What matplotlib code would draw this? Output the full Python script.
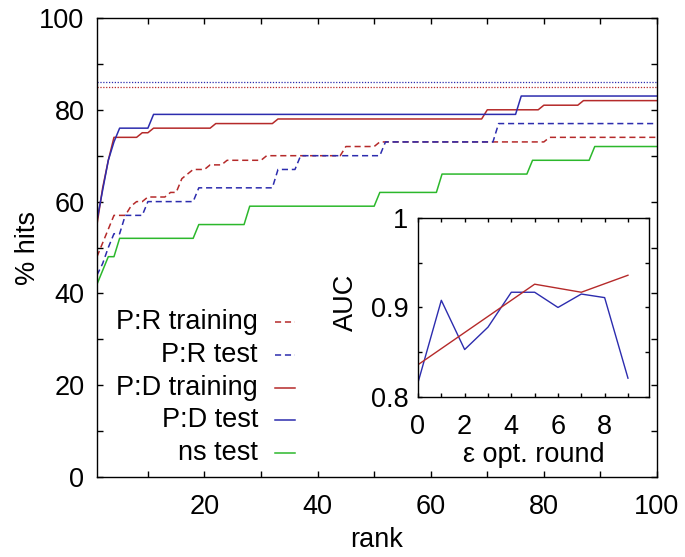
import numpy as np
import matplotlib
matplotlib.use('Agg')
import matplotlib.pyplot as plt

plt.rcParams['font.family'] = ['Liberation Sans', 'DejaVu Sans']
plt.rcParams['font.size'] = 19.5

# step curves: rank where a new value starts, and that value (% hits)
pr_train_rank = [1, 2, 3, 4, 7, 8, 10, 14, 16, 17, 18, 21, 24, 31, 45, 51, 81]
pr_train_hits = [48, 51, 54, 57, 59, 60, 61, 62, 65, 66, 67, 68, 69, 70, 72, 73, 74]

pr_test_rank = [1, 2, 3, 4, 6, 10, 19, 33, 37, 52, 72]
pr_test_hits = [44, 46.5, 50, 53, 57, 60, 63, 67, 70, 73, 77]

pd_train_rank = [1, 2, 3, 4, 9, 11, 22, 33, 70, 80, 87]
pd_train_hits = [55, 63, 69, 74, 75, 76, 77, 78, 80, 81, 82]

pd_test_rank = [1, 2, 3, 4, 5, 11, 76]
pd_test_hits = [56, 62.5, 69, 73, 76, 79, 83]

ns_test_rank = [1, 2, 3, 5, 19, 28, 51, 62, 78, 89]
ns_test_hits = [42, 45, 48, 52, 55, 59, 62, 66, 69, 72]

# best possible levels (dotted)
pr_best = 85
pd_best = 86

# inset: AUC per epsilon optimisation round
eps_round = [0, 1, 2, 3, 4, 5, 6, 7, 8, 9]
auc_blue = [0.816, 0.908, 0.853, 0.878, 0.917, 0.917, 0.900, 0.915, 0.911, 0.821]
red_round = [0, 5, 7, 9]
auc_red = [0.836, 0.926, 0.917, 0.936]

RED = '#b52a2a'
BLUE = '#2c2cae'
GREEN = '#2cb82c'

ranks = np.arange(1, 101)

def expand(starts, vals):
	# value at each rank = last value that started at or before it
	idx = np.searchsorted(starts, ranks, side='right') - 1
	return np.array(vals)[idx]

fig = plt.figure(figsize=(6.85, 5.57), dpi=100)
ax = fig.add_axes([0.1416, 0.1436, 0.8175, 0.8241])

dash = (0, (4, 2.5))
ax.axhline(pd_best, color=BLUE, lw=0.9, ls=(0, (1, 1.3)))
ax.axhline(pr_best, color=RED, lw=0.9, ls=(0, (1, 1.3)))

series = [
	('P:R training', pr_train_rank, pr_train_hits, RED, dash),
	('P:R test', pr_test_rank, pr_test_hits, BLUE, dash),
	('P:D training', pd_train_rank, pd_train_hits, RED, '-'),
	('P:D test', pd_test_rank, pd_test_hits, BLUE, '-'),
	('ns test', ns_test_rank, ns_test_hits, GREEN, '-'),
]
for name, r, h, c, ls in series:
	ax.plot(ranks, expand(r, h), color=c, ls=ls, lw=1.1)

# gnuplot style key: right aligned text, sample to the right
key_y = [0.338, 0.266, 0.194, 0.124, 0.052]
for (name, r, h, c, ls), yk in zip(series, key_y):
	ax.text(0.2875, yk, name, ha='right', va='center', transform=ax.transAxes)
	ax.plot([0.318, 0.354], [yk, yk], color=c, ls=ls, lw=1.1, transform=ax.transAxes)

ax.set_xlim(1, 100)
ax.set_ylim(0, 100)
ax.set_xticks(range(10, 101, 10))
ax.set_xticklabels([str(v) if v % 20 == 0 else '' for v in range(10, 101, 10)])
ax.set_yticks(range(0, 101, 10))
ax.set_yticklabels([str(v) if v % 20 == 0 else '' for v in range(0, 101, 10)])
ax.tick_params(direction='in', length=4, width=1, top=True, right=True)
ax.tick_params(axis='x', pad=12)
ax.tick_params(axis='y', pad=9)
for s in ax.spines.values():
	s.set_linewidth(1)
ax.set_xlabel('rank')
ax.set_ylabel('% hits')
ax.xaxis.set_label_coords(0.5, -0.108)
ax.yaxis.set_label_coords(-0.1, 0.5)

# inset
ins = fig.add_axes([0.6102, 0.2873, 0.3372, 0.3214])
ins.plot(eps_round, auc_blue, color=BLUE, lw=1.0)
ins.plot(red_round, auc_red, color=RED, lw=1.0)
ins.set_xlim(0, 9.9)
ins.set_ylim(0.8, 1.0)
ins.set_xticks(range(0, 10))
ins.set_xticklabels([str(v) if v % 2 == 0 else '' for v in range(0, 10)])
ins.set_yticks([0.8, 0.85, 0.9, 0.95, 1.0])
ins.set_yticklabels(['0.8', '', '0.9', '', '1'])
ins.tick_params(direction='in', length=2.8, width=1, top=True, right=True)
ins.tick_params(axis='x', pad=12)
ins.tick_params(axis='y', pad=7)
for s in ins.spines.values():
	s.set_linewidth(1)
ins.set_xlabel('ε opt. round')
ins.set_ylabel('AUC')
ins.xaxis.set_label_coords(0.5, -0.25)
ins.yaxis.set_label_coords(-0.255, 0.53)

fig.savefig('out.png', dpi=100)
